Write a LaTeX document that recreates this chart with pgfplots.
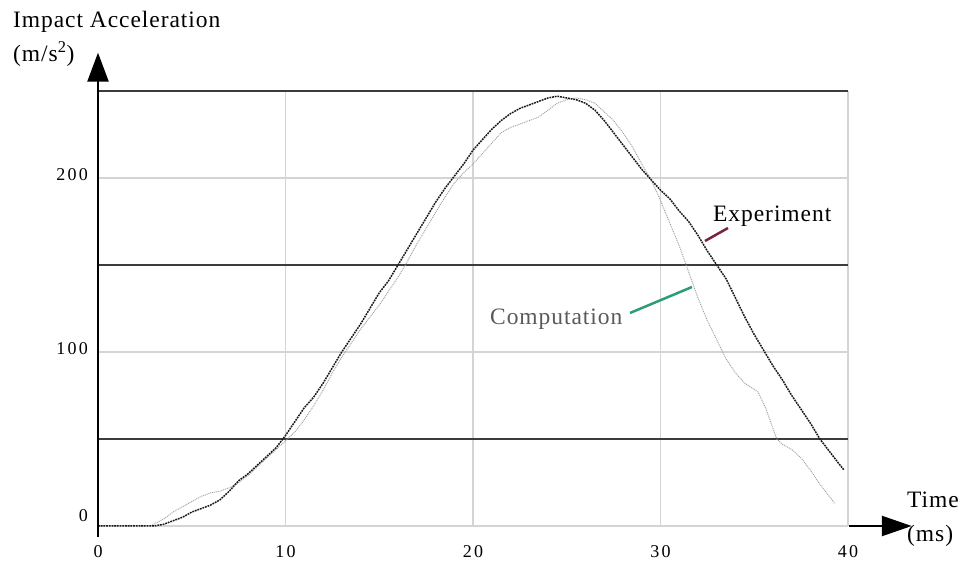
\documentclass[border=0pt]{standalone}
\usepackage{fontspec}
\setmainfont{Liberation Serif}[LetterSpace=4]
\newfontfamily\tickfont{Liberation Serif}[LetterSpace=12]
\usepackage{pgfplots}
\pgfplotsset{compat=1.18}
\usetikzlibrary{arrows.meta}

\definecolor{gridlight}{HTML}{D4D4D4}
\definecolor{griddark}{HTML}{3C3C3C}
\definecolor{expline}{HTML}{7A2343}
\definecolor{compline}{HTML}{2E9C78}
\definecolor{comptext}{HTML}{5A5A5A}

\begin{document}
\begin{tikzpicture}
\useasboundingbox (0,0) rectangle (967pt,565pt);
\begin{axis}[
  at={(98pt,39pt)}, anchor=south west,
  scale only axis, width=750pt, height=435pt,
  xmin=0, xmax=40, ymin=0, ymax=250,
  axis line style={draw=none},
  major tick length=0pt,
  xtick={0,10,20,30,40}, ytick={0,100,200},
  yticklabels={{\raisebox{6.5pt}{0}\hspace{8pt}},100,200},
  extra y ticks={50,150,250}, extra y tick labels={},
  extra y tick style={major grid style={griddark, line width=2.3pt}},
  grid=major, major grid style={gridlight, line width=1.3pt},
  tick label style={font=\tickfont\fontsize{18}{21}\selectfont, inner sep=0pt},
  xticklabel style={anchor=base, yshift=-31pt},
  yticklabel style={anchor=base east, xshift=-10pt, yshift=-2.5pt},
  /pgf/number format/assume math mode=true,
  clip=false,
]
% computed response
\addplot[gray!75, line width=0.9pt, dash pattern=on 1pt off 0.9pt] coordinates {
(2.8,0) (3.5,4) (4.0,8) (4.5,11) (5.0,14) (5.5,17) (6.0,19) (6.5,20)
(7.0,22) (7.5,25) (8.0,29) (8.5,34) (9.0,39) (9.5,44) (10.0,49) (10.5,54)
(11.0,61) (11.5,69) (12.0,78) (12.5,88) (13.0,97) (13.5,105) (14.0,113)
(14.5,120) (15.0,127) (15.5,135) (16.0,143) (16.5,152) (17.0,162) (17.5,171)
(18.0,180) (18.5,189) (19.0,197) (19.5,203) (20.0,208) (20.5,214) (21.0,220)
(21.5,226) (22.0,229) (22.5,231) (23.0,233) (23.5,235) (24.0,239) (24.5,243)
(25.0,245) (25.5,246) (26.0,245) (26.5,243) (27.0,238) (27.5,233) (28.0,226)
(28.5,218) (29.0,208) (29.5,199) (30.0,187) (30.5,174) (31.0,161) (31.5,146)
(32.0,131) (32.5,118) (33.0,107) (33.5,96) (34.0,88) (34.5,82) (35.2,77)
(35.6,68) (36.2,50) (36.5,47) (37.0,44) (37.5,39) (38.0,32) (38.5,24)
(39.0,17) (39.3,13)
};
% measured response
\addplot[black!90, line width=1.5pt, dash pattern=on 1.8pt off 0.9pt] coordinates {
(0,0) (3.0,0) (3.5,1) (4.0,3) (4.5,5) (5.0,8) (5.5,10) (6.0,12) (6.5,15)
(7.0,20) (7.5,26) (8.0,30) (8.5,35) (9.0,40) (9.5,45) (10.0,52) (10.5,60)
(11.0,68) (11.5,74) (12.0,82) (12.5,91) (13.0,100) (13.5,108) (14.0,116)
(14.5,125) (15.0,134) (15.5,141) (16.0,150) (16.5,159) (17.0,168) (17.5,177)
(18.0,186) (18.5,194) (19.0,201) (19.5,208) (20.0,216) (20.5,222) (21.0,228)
(21.5,233) (22.0,237) (22.5,240) (23.0,242) (23.5,244) (24.0,246) (24.5,247)
(25.0,246) (25.5,245) (26.0,243) (26.5,239) (27.0,233) (27.5,226) (28.0,219)
(28.5,212) (29.0,205) (29.5,199) (30.0,193) (30.5,188) (31.0,181) (31.5,175)
(32.0,167) (32.5,158) (33.0,150) (33.5,142) (34.0,131) (34.5,120) (35.0,110)
(35.5,101) (36.0,92) (36.5,84) (37.0,75) (37.5,67) (38.0,59) (38.5,50)
(39.0,43) (39.5,36) (39.8,32)
};
% axis arrows
\draw[line width=2.5pt, -{Triangle[length=29pt,width=21pt]}]
  (axis cs:0,-6.3) -- (axis cs:0,272);
\draw[line width=2.5pt, -{Triangle[length=30pt,width=20pt]}]
  (axis cs:40.05,0) -- (axis cs:43.4,0);
\end{axis}
\begin{scope}[x=1pt, y=-1pt, shift={(0pt,565pt)},
  every node/.style={anchor=base west, inner sep=0pt, font=\fontsize{23.5}{27}\selectfont}]
\node at (13,28) {Impact Acceleration};
\node at (13,62) {(m/s\textsuperscript{2})};
\node at (907,508) {Time};
\node at (907,542) {(ms)};
\node at (713,222) {Experiment};
\node[text=comptext] at (490,325) {Computation};
\draw[expline, line width=2.5pt] (705,241) -- (728,228);
\draw[compline, line width=2.5pt] (630,313) -- (692,287);
\end{scope}
\end{tikzpicture}
\end{document}
